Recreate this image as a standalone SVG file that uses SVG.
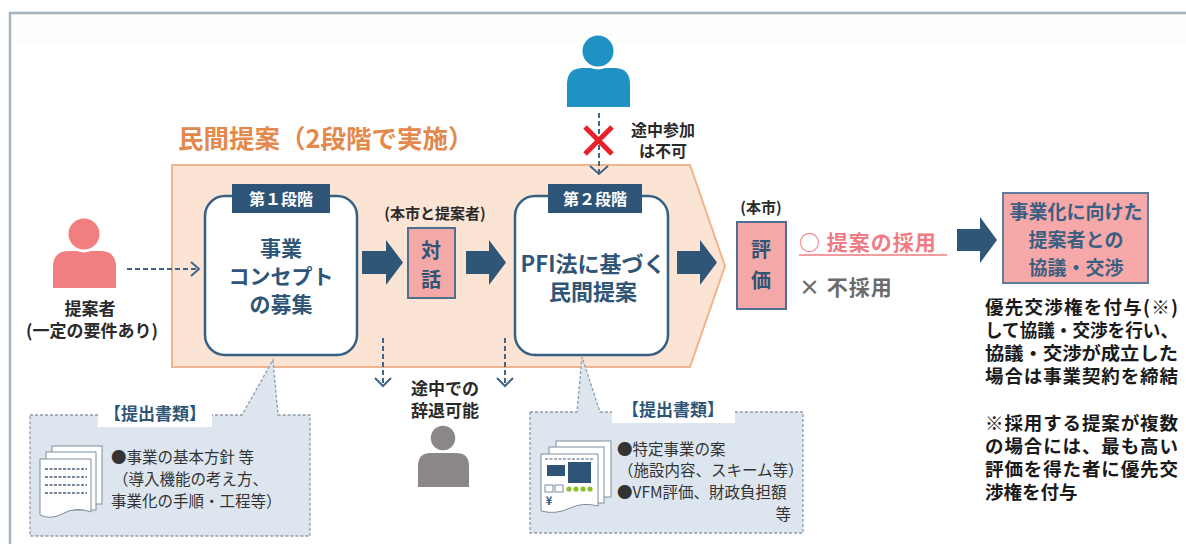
<svg xmlns="http://www.w3.org/2000/svg" width="1186" height="544" viewBox="0 0 1186 544">
  <style>
    .jp { font-family: "Noto Sans CJK JP", "Noto Sans", sans-serif; }
    .b { font-weight: bold; }
    .stage { fill: #ffffff; stroke: #365f84; stroke-width: 2.5; }
    .tab { fill: #2e5478; }
    .tabtxt { fill: #ffffff; font-size: 16px; }
    .main { fill: #2f5577; font-size: 21px; }
    .pinkbox { fill: #f5a8a8; stroke: #4f6f90; stroke-width: 2; }
    .blk { fill: #2f5577; }
    .dash { fill: none; stroke: #3f6688; stroke-width: 2; stroke-dasharray: 5 3; }
    .chev { fill: none; stroke: #3f6688; stroke-width: 2; }
    .callout { fill: #dde6ef; stroke: #8e9aa8; stroke-width: 1.3; stroke-dasharray: 3 2; }
    .ctitle { fill: #2f5577; font-size: 17px; }
    .ctext { fill: #333333; font-size: 15.5px; }
    .note { fill: #1a1a1a; font-size: 18.5px; }
    .lbl { fill: #2a2a2a; font-size: 16px; }
  </style>

  <!-- outer frame -->
  <rect x="10" y="13" width="1176" height="30" fill="#fdfdfb"/>
  <path d="M10,544 V13 H1186" fill="none" stroke="#a5b3bf" stroke-width="2.5"/>

  <!-- two-stage proposal band -->
  <g id="band">
    <path d="M172,165 H690 L725,266 L690,367 H172 Z" fill="#fbe4d4" stroke="#f0b58c" stroke-width="2"/>
    <text class="jp b" x="178" y="148" font-size="25.5" fill="#e3894c">民間提案（2段階で実施）</text>
  </g>

  <!-- proposer -->
  <g id="proposer">
    <path d="M53,288 V267 Q53,251 69,251 H100 Q116,251 116,267 V288 Z" fill="#f27f80"/>
    <circle cx="84" cy="234" r="17" fill="#f27f80" stroke="#ffffff" stroke-width="3"/>
    <text class="jp b" x="90" y="315" font-size="17" fill="#2a2a2a" text-anchor="middle">提案者</text>
    <text class="jp b" x="92" y="337" font-size="17" fill="#2a2a2a" text-anchor="middle">(一定の要件あり)</text>
  </g>

  <!-- stage 1 -->
  <g id="stage1">
    <rect class="stage" x="205" y="196" width="152" height="159" rx="20"/>
    <rect class="tab" x="232" y="184" width="98" height="29"/>
    <text class="jp b tabtxt" x="281" y="205" text-anchor="middle">第１段階</text>
    <text class="jp b main" x="281" y="256" text-anchor="middle">事業</text>
    <text class="jp b main" x="281" y="284" text-anchor="middle">コンセプト</text>
    <text class="jp b main" x="281" y="312" text-anchor="middle">の募集</text>
  </g>

  <!-- dialogue -->
  <g id="dialogue">
    <text class="jp b" x="435" y="219" font-size="15" fill="#2a2a2a" text-anchor="middle">(本市と提案者)</text>
    <rect class="pinkbox" x="408" y="228" width="47" height="70"/>
    <text class="jp b" x="431" y="258" font-size="20" fill="#2f5577" text-anchor="middle">対</text>
    <text class="jp b" x="431" y="287" font-size="20" fill="#2f5577" text-anchor="middle">話</text>
  </g>

  <!-- stage 2 -->
  <g id="stage2">
    <rect class="stage" x="515" y="196" width="153" height="159" rx="20"/>
    <rect class="tab" x="548" y="184" width="94" height="29"/>
    <text class="jp b tabtxt" x="595" y="205" text-anchor="middle">第２段階</text>
    <text class="jp b" x="593" y="272" font-size="22" fill="#2f5577" text-anchor="middle">PFI法に基づく</text>
    <text class="jp b" x="593" y="300" font-size="22" fill="#2f5577" text-anchor="middle">民間提案</text>
  </g>

  <!-- evaluation -->
  <g id="evaluation">
    <text class="jp b" x="761" y="213" font-size="15" fill="#2a2a2a" text-anchor="middle">(本市)</text>
    <rect class="pinkbox" x="737" y="222" width="49" height="87"/>
    <text class="jp b" x="761" y="257" font-size="20" fill="#2f5577" text-anchor="middle">評</text>
    <text class="jp b" x="761" y="288" font-size="20" fill="#2f5577" text-anchor="middle">価</text>
    <text class="jp b" x="799" y="250" font-size="21" fill="#ef7c82" letter-spacing="1">○ 提案の採用</text>
    <line x1="799" y1="255" x2="947" y2="255" stroke="#ef7c82" stroke-width="1.5"/>
    <text class="jp b" x="799" y="295" font-size="21" fill="#6b6b6b" letter-spacing="1">× 不採用</text>
  </g>

  <!-- negotiation -->
  <g id="negotiation">
    <rect x="1003" y="193" width="145" height="90" fill="#f7a9a9" stroke="#5c7d9c" stroke-width="2"/>
    <text class="jp b" x="1076" y="219" font-size="19" fill="#3b5f82" text-anchor="middle">事業化に向けた</text>
    <text class="jp b" x="1076" y="247" font-size="19" fill="#3b5f82" text-anchor="middle">提案者との</text>
    <text class="jp b" x="1076" y="275" font-size="19" fill="#3b5f82" text-anchor="middle">協議・交渉</text>
    <text class="jp b note" x="985" y="314" textLength="193" lengthAdjust="spacing">優先交渉権を付与(※)</text>
    <text class="jp b note" x="985" y="337" textLength="193" lengthAdjust="spacingAndGlyphs">して協議・交渉を行い、</text>
    <text class="jp b note" x="985" y="360" textLength="193" lengthAdjust="spacingAndGlyphs">協議・交渉が成立した</text>
    <text class="jp b note" x="985" y="383" textLength="193" lengthAdjust="spacing">場合は事業契約を締結</text>
    <text class="jp b note" x="985" y="430" textLength="193" lengthAdjust="spacing">※採用する提案が複数</text>
    <text class="jp b note" x="985" y="453" textLength="193" lengthAdjust="spacing">の場合には、最も高い</text>
    <text class="jp b note" x="985" y="476" textLength="193" lengthAdjust="spacing">評価を得た者に優先交</text>
    <text class="jp b note" x="985" y="499">渉権を付与</text>
  </g>

  <!-- late entrant -->
  <g id="late-entrant">
    <path d="M567,107 V84 Q567,68 583,68 H614 Q630,68 630,84 V107 Z" fill="#1f91c2"/>
    <circle cx="598" cy="51" r="17" fill="#1f91c2" stroke="#ffffff" stroke-width="3"/>
    <text class="jp b lbl" x="663" y="136" text-anchor="middle">途中参加</text>
    <text class="jp b lbl" x="663" y="157" text-anchor="middle">は不可</text>
  </g>

  <!-- withdrawal -->
  <g id="withdrawal">
    <text class="jp b" x="445" y="395" font-size="17" fill="#2a2a2a" text-anchor="middle">途中での</text>
    <text class="jp b" x="445" y="417" font-size="17" fill="#2a2a2a" text-anchor="middle">辞退可能</text>
    <path d="M418,487 V466 Q418,453 431,453 H456 Q469,453 469,466 V487 Z" fill="#8c8787"/>
    <circle cx="443" cy="438" r="13.5" fill="#8c8787" stroke="#ffffff" stroke-width="2.5"/>
  </g>

  <!-- stage 1 documents -->
  <g id="docs1">
    <path class="callout" d="M30,415 H242 L273,360 L278,415 H310 V536 H30 Z"/>
    <rect x="98" y="401" width="114" height="26" fill="#ffffff"/>
    <text class="jp b ctitle" x="155" y="420" text-anchor="middle">【提出書類】</text>
    <rect x="52" y="446" width="50" height="58" fill="#ffffff" stroke="#7f8d9c" stroke-width="1"/>
    <rect x="46" y="452" width="50" height="58" fill="#ffffff" stroke="#7f8d9c" stroke-width="1"/>
    <path d="M40,459 H91 V512 Q76,506 62,514 Q50,520 40,515 Z" fill="#ffffff" stroke="#7f8d9c" stroke-width="1"/>
    <g stroke="#4a5f78" stroke-width="1.5" stroke-dasharray="3 1.5">
      <line x1="45" y1="469" x2="87" y2="469"/>
      <line x1="45" y1="477" x2="87" y2="477"/>
      <line x1="45" y1="485" x2="87" y2="485"/>
      <line x1="45" y1="493" x2="87" y2="493"/>
    </g>
    <text class="jp ctext" x="111" y="463">●事業の基本方針 等</text>
    <text class="jp ctext" x="113" y="485">（導入機能の考え方、</text>
    <text class="jp ctext" x="111" y="507">事業化の手順・工程等）</text>
  </g>

  <!-- stage 2 documents -->
  <g id="docs2">
    <path class="callout" d="M530,412 H577 L582,357 L600,412 H803 V533 H530 Z"/>
    <rect x="612" y="397" width="123" height="26" fill="#ffffff"/>
    <text class="jp b ctitle" x="673" y="416" text-anchor="middle">【提出書類】</text>
    <rect x="556" y="441" width="55" height="56" fill="#ffffff" stroke="#7f8d9c" stroke-width="1"/>
    <rect x="549" y="447" width="55" height="56" fill="#ffffff" stroke="#7f8d9c" stroke-width="1"/>
    <path d="M541,454 H598 V506 Q583,502 570,508 Q556,515 541,511 Z" fill="#ffffff" stroke="#7f8d9c" stroke-width="1"/>
    <line x1="545" y1="459" x2="594" y2="459" stroke="#4a5f78" stroke-width="1.2" stroke-dasharray="3 1.5"/>
    <rect x="547" y="465" width="18" height="11" fill="#2e5478"/>
    <rect x="568" y="462" width="23" height="21" fill="#2e5478"/>
    <rect x="545" y="485" width="8" height="7" fill="#ffffff" stroke="#7f8d9c" stroke-width="1"/>
    <rect x="555" y="485" width="8" height="7" fill="#ffffff" stroke="#7f8d9c" stroke-width="1"/>
    <g fill="#8cbf26">
      <circle cx="569" cy="489" r="2.6"/>
      <circle cx="576" cy="489" r="2.6"/>
      <circle cx="583" cy="489" r="2.6"/>
      <circle cx="590" cy="489" r="2.6"/>
    </g>
    <text class="jp b" x="549" y="505" font-size="11" fill="#2e5478" text-anchor="middle">¥</text>
    <text class="jp ctext" x="617" y="455">●特定事業の案</text>
    <text class="jp ctext" x="618" y="476">（施設内容、スキーム等）</text>
    <text class="jp ctext" x="617" y="498">●VFM評価、財政負担額</text>
    <text class="jp ctext" x="791" y="520" text-anchor="end">等</text>
  </g>

  <!-- connectors -->
  <g id="connectors">
    <!-- proposer to stage 1 -->
    <line class="dash" x1="127" y1="269" x2="197" y2="269"/>
    <polyline class="chev" points="191,262 199,269 191,276"/>
    <!-- block flow arrows -->
    <path class="blk" d="M362,251 H386 V240 L403,262.5 L386,285 V274 H362 Z"/>
    <path class="blk" d="M466,251 H489 V240 L506,262.5 L489,285 V274 H466 Z"/>
    <path class="blk" d="M677,251 H700 V240 L717,262.5 L700,285 V274 H677 Z"/>
    <path class="blk" d="M957,229 H980 V217 L997,240 L980,263 V251 H957 Z"/>
    <!-- late entry (not allowed) -->
    <line class="dash" x1="599" y1="113" x2="599" y2="173"/>
    <polyline class="chev" points="590,166 599,174 608,166"/>
    <g stroke="#e8202a" stroke-width="5" stroke-linecap="butt">
      <line x1="585" y1="127" x2="612" y2="154"/>
      <line x1="612" y1="127" x2="585" y2="154"/>
    </g>
    <!-- withdrawal paths -->
    <line class="dash" x1="383" y1="338" x2="383" y2="385"/>
    <polyline class="chev" points="375,378 383,386 391,378"/>
    <line class="dash" x1="505" y1="338" x2="505" y2="385"/>
    <polyline class="chev" points="497,378 505,386 513,378"/>
  </g>
</svg>
